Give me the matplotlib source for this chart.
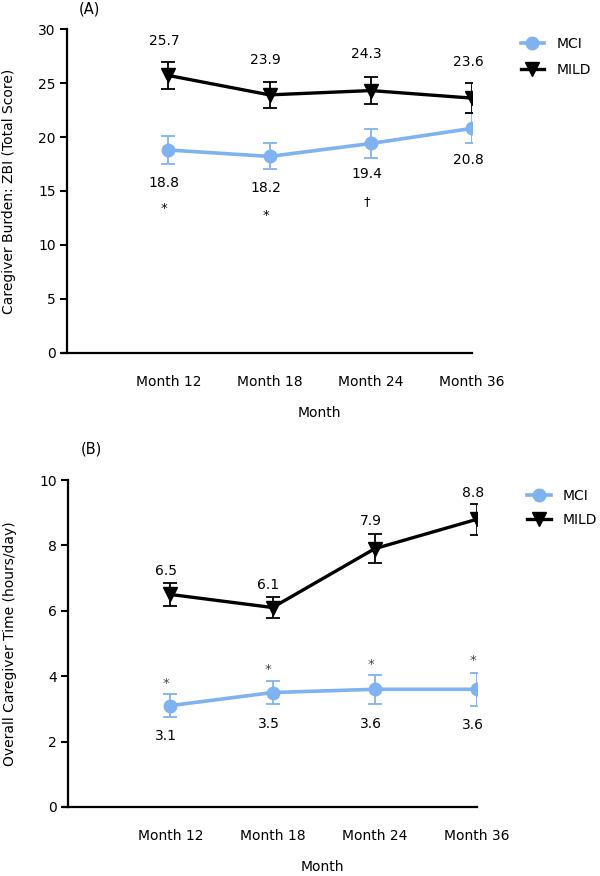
import matplotlib
matplotlib.use("Agg")
import matplotlib.pyplot as plt
from matplotlib.lines import Line2D

plt.rcParams['font.family'] = ['DejaVu Sans']

months = ["Month 12", "Month 18", "Month 24", "Month 36"]

# Panel A: Caregiver burden (ZBI total score)
zbi_mci = [18.8, 18.2, 19.4, 20.8]
zbi_mci_err = [1.3, 1.2, 1.3, 1.4]
zbi_mild = [25.7, 23.9, 24.3, 23.6]
zbi_mild_err = [1.25, 1.2, 1.25, 1.4]
zbi_sig = ["*", "*", "\u2020", ""]

# Panel B: Overall caregiver time (hours/day)
time_mci = [3.1, 3.5, 3.6, 3.6]
time_mci_err = [0.35, 0.34, 0.45, 0.5]
time_mild = [6.5, 6.1, 7.9, 8.8]
time_mild_err = [0.34, 0.33, 0.44, 0.48]
time_sig = ["*", "*", "*", "*"]

BLUE = "#7FB2F0"
W, H = 600, 876
fig = plt.figure(figsize=(6, 8.76), dpi=100)


def ax_rect(l, r, t, b):
    return [l / W, 1 - b / H, (r - l) / W, (b - t) / H]


def draw_panel(ax, mci, mci_err, mild, mild_err, ymax, ystep, ylabel, tag, tag_y,
               mild_lab_dy, mci_lab_dy, sig, sig_dy, sig_color, leg_anchor, leg_sp):
    x = list(range(len(months)))
    ax.errorbar(x, mci, yerr=mci_err, color=BLUE, lw=2.6, marker='o', ms=9,
                capsize=5, elinewidth=1.3, capthick=1.3, zorder=3)
    ax.errorbar(x, mild, yerr=mild_err, color='black', lw=2.4, marker='v', ms=9.5,
                capsize=5, elinewidth=1.3, capthick=1.3, zorder=4)
    for i in x:
        ax.text(i - 0.04, mild[i] + mild_lab_dy[i], f"{mild[i]:.1f}",
                ha='center', va='center', fontsize=10)
        ax.text(i - 0.04, mci[i] + mci_lab_dy[i], f"{mci[i]:.1f}",
                ha='center', va='center', fontsize=10)
        if sig[i]:
            ax.text(i - 0.04, mci[i] + sig_dy[i], sig[i], ha='center', va='center',
                    fontsize=9.5, color=sig_color)
    ax.set_xlim(-1, 3)
    ax.set_ylim(0, ymax)
    ax.set_yticks([ystep * k for k in range(int(ymax / ystep) + 1)])
    ax.set_xticks(x)
    ax.set_xticklabels(months, fontsize=10)
    ax.tick_params(axis='x', length=0, pad=16)
    ax.tick_params(axis='y', length=5, width=1.5, labelsize=10, pad=3)
    for s in ['top', 'right']:
        ax.spines[s].set_visible(False)
    ax.spines['left'].set_linewidth(1.6)
    ax.spines['bottom'].set_linewidth(1.6)
    ax.spines['bottom'].set_bounds(-1.05, 3)
    ax.set_ylabel(ylabel, fontsize=10)
    ax.yaxis.set_label_coords(-0.125, 0.5)
    ax.text(0.622, -0.185, "Month", transform=ax.transAxes, ha='center',
            va='center', fontsize=10)
    ax.text(-0.88, tag_y, tag, fontsize=10.5, ha='left', va='center',
            transform=ax.transData, clip_on=False)
    handles = [
        Line2D([], [], color=BLUE, lw=2.6, marker='o', ms=9),
        Line2D([], [], color='black', lw=2.4, marker='v', ms=9.5),
    ]
    ax.legend(handles, ["MCI", "MILD"], loc='upper left', bbox_to_anchor=leg_anchor,
              frameon=False, fontsize=10, handlelength=1.7, handletextpad=0.9,
              labelspacing=leg_sp, borderaxespad=0, borderpad=0)


axA = fig.add_axes(ax_rect(67, 472, 29, 353))
draw_panel(axA, zbi_mci, zbi_mci_err, zbi_mild, zbi_mild_err, 30, 5,
           "Caregiver Burden: ZBI (Total Score)", "(A)", 31.85,
           mild_lab_dy=[3.2, 3.25, 3.4, 3.3],
           mci_lab_dy=[-3.05, -2.9, -2.8, -2.9],
           sig=zbi_sig, sig_dy=[-5.4, -5.5, -5.4, 0], sig_color='black',
           leg_anchor=(1.12, 0.976), leg_sp=0.9)

axB = fig.add_axes(ax_rect(68, 477, 480, 807))
draw_panel(axB, time_mci, time_mci_err, time_mild, time_mild_err, 10, 2,
           "Overall Caregiver Time (hours/day)", "(B)", 10.95,
           mild_lab_dy=[0.73, 0.69, 0.86, 0.81],
           mci_lab_dy=[-0.94, -0.95, -1.06, -1.08],
           sig=time_sig, sig_dy=[0.67, 0.7, 0.75, 0.88], sig_color='#444444',
           leg_anchor=(1.122, 0.973), leg_sp=0.75)

fig.savefig("out.png", dpi=100)
